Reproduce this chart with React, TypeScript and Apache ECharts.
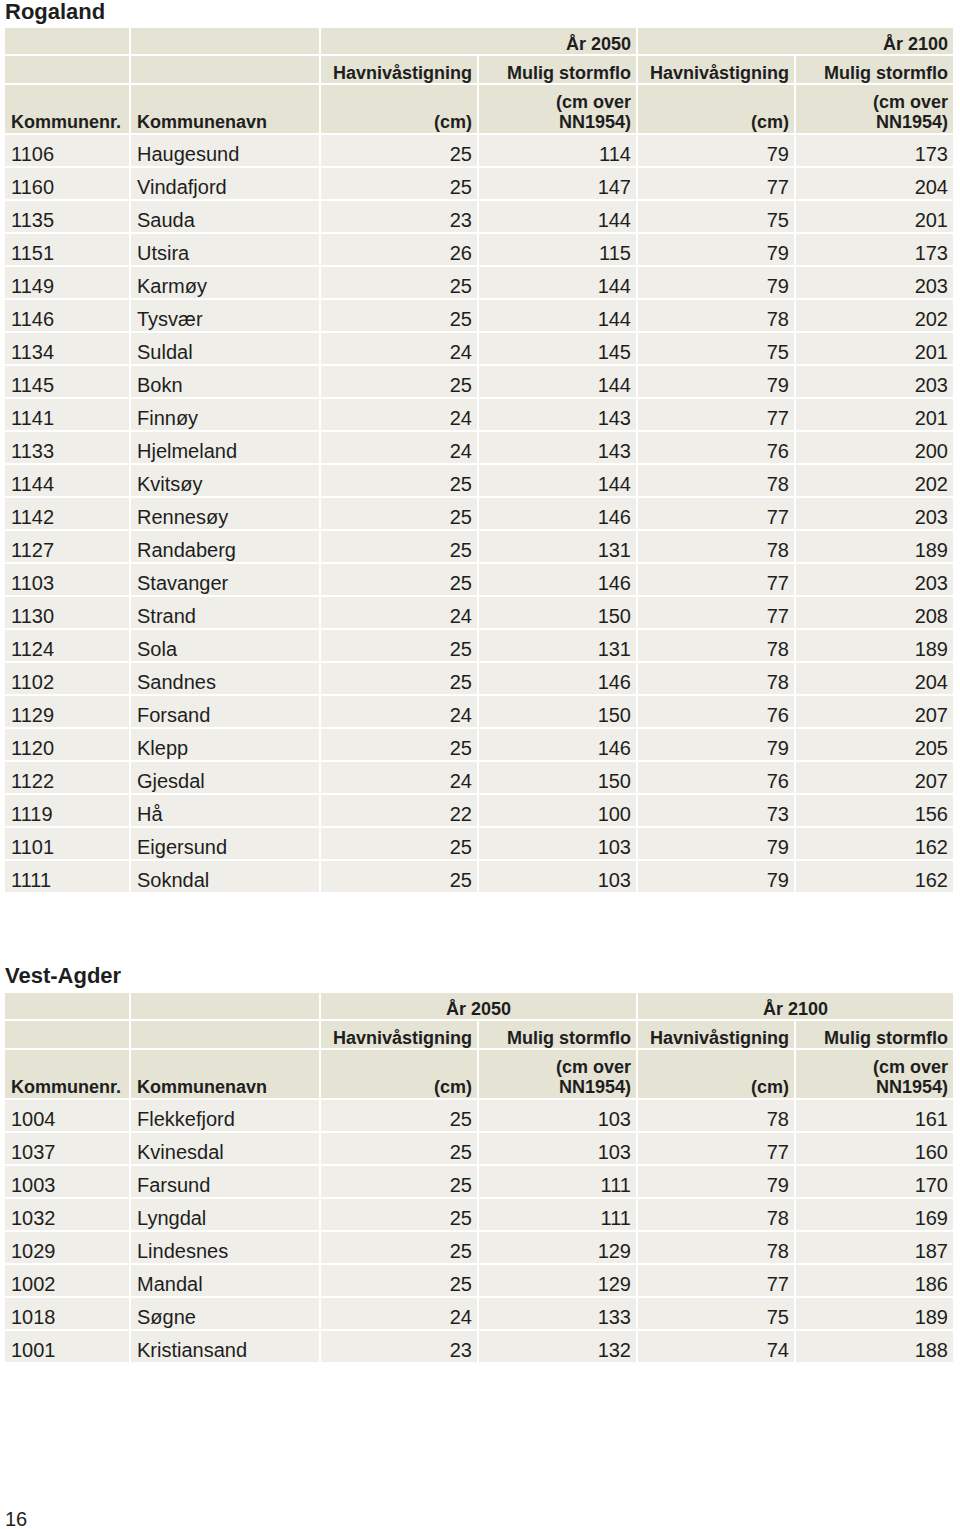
import React, { useEffect, useRef } from "react";
import * as echarts from "echarts";

// ---- Data ----
const rogalandNr = ["1106","1160","1135","1151","1149","1146","1134","1145","1141","1133","1144","1142","1127","1103","1130","1124","1102","1129","1120","1122","1119","1101","1111"];
const rogalandNavn = ["Haugesund","Vindafjord","Sauda","Utsira","Karmøy","Tysvær","Suldal","Bokn","Finnøy","Hjelmeland","Kvitsøy","Rennesøy","Randaberg","Stavanger","Strand","Sola","Sandnes","Forsand","Klepp","Gjesdal","Hå","Eigersund","Sokndal"];
const rogaland2050Hav = [25,25,23,26,25,25,24,25,24,24,25,25,25,25,24,25,25,24,25,24,22,25,25];
const rogaland2050Storm = [114,147,144,115,144,144,145,144,143,143,144,146,131,146,150,131,146,150,146,150,100,103,103];
const rogaland2100Hav = [79,77,75,79,79,78,75,79,77,76,78,77,78,77,77,78,78,76,79,76,73,79,79];
const rogaland2100Storm = [173,204,201,173,203,202,201,203,201,200,202,203,189,203,208,189,204,207,205,207,156,162,162];

const vestAgderNr = ["1004","1037","1003","1032","1029","1002","1018","1001"];
const vestAgderNavn = ["Flekkefjord","Kvinesdal","Farsund","Lyngdal","Lindesnes","Mandal","Søgne","Kristiansand"];
const vestAgder2050Hav = [25,25,25,25,25,25,24,23];
const vestAgder2050Storm = [103,103,111,111,129,129,133,132];
const vestAgder2100Hav = [78,77,79,78,78,77,75,74];
const vestAgder2100Storm = [161,160,170,169,187,186,189,188];

const yearLabels = ["År 2050", "År 2100"];
const headerRow2 = ["", "", "Havnivåstigning", "Mulig stormflo", "Havnivåstigning", "Mulig stormflo"];
const headerRow3 = ["Kommunenr.", "Kommunenavn", "(cm)", "(cm over\nNN1954)", "(cm)", "(cm over\nNN1954)"];

// ---- Layout ----
const colEdges = [5, 131, 321, 479, 638, 796, 955];
const GAP = 2;
const ROW_H = 33;
const HEADER_BG = "#e5e3d4";
const DATA_BG = "#efeee8";
const TEXT = "#1e1e1e";
const FONT = "'Liberation Sans', Arial, Helvetica, sans-serif";

function buildTable(
  title: string,
  titleY: number,
  top: number,
  yearCentered: boolean,
  cols: (string | number)[][]
): any[] {
  const els: any[] = [];
  els.push({
    type: "text",
    x: 5,
    y: titleY,
    style: { text: title, font: `bold 22px ${FONT}`, fill: TEXT, verticalAlign: "middle", align: "left" },
  });
  const hRows = [top, top + 28, top + 57, top + 107];
  const r1 = [
    [0, 1],
    [1, 2],
    [2, 4],
    [4, 6],
  ];
  r1.forEach(([a, b], i) => {
    const x0 = colEdges[a];
    const x1 = colEdges[b] - GAP;
    els.push({ type: "rect", shape: { x: x0, y: hRows[0], width: x1 - x0, height: hRows[1] - hRows[0] - GAP }, style: { fill: HEADER_BG } });
    if (i >= 2) {
      const label = yearLabels[i - 2];
      els.push({
        type: "text",
        x: yearCentered ? (x0 + x1) / 2 : x1 - 5,
        y: hRows[0] + 15.5,
        style: { text: label, font: `bold 18px ${FONT}`, fill: TEXT, align: yearCentered ? "center" : "right", verticalAlign: "middle" },
      });
    }
  });
  for (let c = 0; c < 6; c++) {
    const x0 = colEdges[c];
    const x1 = colEdges[c + 1] - GAP;
    const right = c >= 2;
    const tx = right ? x1 - 5 : x0 + 6;
    els.push({ type: "rect", shape: { x: x0, y: hRows[1], width: x1 - x0, height: hRows[2] - hRows[1] - GAP }, style: { fill: HEADER_BG } });
    els.push({ type: "rect", shape: { x: x0, y: hRows[2], width: x1 - x0, height: hRows[3] - hRows[2] - GAP }, style: { fill: HEADER_BG } });
    if (headerRow2[c]) {
      els.push({
        type: "text",
        x: tx,
        y: hRows[1] + 17,
        style: { text: headerRow2[c], font: `bold 18px ${FONT}`, fill: TEXT, align: right ? "right" : "left", verticalAlign: "middle" },
      });
    }
    els.push({
      type: "text",
      x: tx,
      y: hRows[3] - 3,
      style: { text: headerRow3[c], font: `bold 18px ${FONT}`, lineHeight: 20, fill: TEXT, align: right ? "right" : "left", verticalAlign: "bottom" },
    });
  }
  const n = cols[0].length;
  for (let r = 0; r < n; r++) {
    const y0 = hRows[3] + r * ROW_H;
    for (let c = 0; c < 6; c++) {
      const x0 = colEdges[c];
      const x1 = colEdges[c + 1] - GAP;
      const right = c >= 2;
      els.push({ type: "rect", shape: { x: x0, y: y0, width: x1 - x0, height: ROW_H - GAP }, style: { fill: DATA_BG } });
      els.push({
        type: "text",
        x: right ? x1 - 5 : x0 + 6,
        y: y0 + 18.5,
        style: { text: String(cols[c][r]), font: `20px ${FONT}`, fill: TEXT, align: right ? "right" : "left", verticalAlign: "middle" },
      });
    }
  }
  return els;
}

export default function App() {
  const ref = useRef<HTMLDivElement>(null);
  useEffect(() => {
    if (!ref.current) return;
    const chart = echarts.init(ref.current, undefined, { renderer: "svg" });
    const graphic = [
      ...buildTable("Rogaland", 11, 28, false, [
        rogalandNr, rogalandNavn, rogaland2050Hav, rogaland2050Storm, rogaland2100Hav, rogaland2100Storm,
      ]),
      ...buildTable("Vest-Agder", 975, 993, true, [
        vestAgderNr, vestAgderNavn, vestAgder2050Hav, vestAgder2050Storm, vestAgder2100Hav, vestAgder2100Storm,
      ]),
      {
        type: "text",
        x: 5,
        y: 1518.5,
        style: { text: "16", font: `20px ${FONT}`, fill: TEXT, align: "left", verticalAlign: "middle" },
      },
    ];
    chart.setOption({
      animation: false,
      backgroundColor: "#ffffff",
      graphic: graphic.map((g) => ({ ...g, silent: true })),
    });
    return () => chart.dispose();
  }, []);
  return (
    <div
      ref={ref}
      style={{ position: "absolute", left: 0, top: 0, width: 960, height: 1529, background: "#fff" }}
    />
  );
}
